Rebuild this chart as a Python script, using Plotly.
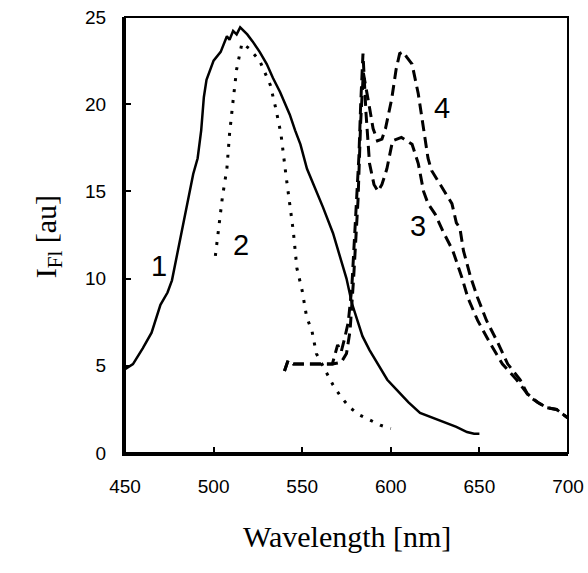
import plotly.graph_objects as go

# Curve 1 (solid)
wl1 = [450, 454.5, 460, 465, 470, 474, 476.5, 482, 485, 488.5, 491, 493, 494.5, 496, 500, 504, 507.5,
       509, 511, 513, 515, 517, 519, 522, 526, 530, 533.5, 537.5, 541, 543, 546, 549, 552.7, 557,
       561.7, 567.4, 572, 575, 578, 581, 584, 588, 591, 594, 598, 603.5, 610, 616.5, 624, 631.6,
       637, 643, 647, 650]
i1 = [4.8, 5.1, 6.0, 6.9, 8.5, 9.2, 9.9, 12.6, 14.2, 16.0, 16.9, 18.5, 20.4, 21.4, 22.5, 23.0, 23.9,
      23.7, 24.2, 24.0, 24.4, 24.2, 24.0, 23.6, 23.0, 22.3, 21.5, 20.7, 19.8, 19.4, 18.5, 17.7, 16.3,
      15.3, 14.1, 12.6, 11.0, 10.0, 8.6, 7.6, 6.7, 5.9, 5.4, 4.9, 4.2, 3.6, 2.9, 2.3, 2.0, 1.7,
      1.5, 1.2, 1.1, 1.1]

# Curve 2 (dotted)
wl2 = [501, 503, 505, 507.5, 509, 511, 513, 516, 520, 526, 532, 535, 538, 541, 543, 545, 547, 550,
       552.5, 555.5, 558, 564.5, 567.4, 572, 577, 582, 588, 594, 600]
i2 = [11.3, 12.9, 14.7, 16.3, 18.3, 20.2, 22.0, 23.5, 23.2, 22.5, 21.1, 19.8, 18.3, 15.8, 14.1, 12.7,
      10.6, 9.3, 7.8, 7.0, 5.7, 4.5, 3.9, 3.2, 2.6, 2.2, 1.9, 1.6, 1.4]

# Curve 3 (dashed)
wl3 = [540, 542, 545, 550, 556, 561, 567, 570, 572, 574, 576, 578, 580, 582, 583, 584.3, 586, 588,
       590.5, 592.8, 595, 597.8, 601, 606, 612, 615.5, 618.5, 621, 625, 629.5, 635, 640, 643.5,
       649, 656, 663, 671, 678.5, 683, 688, 693.5, 696, 700]
i3 = [4.7, 5.3, 5.1, 5.1, 5.1, 5.1, 5.1, 6.2, 5.8, 6.6, 7.5, 9.5, 13.0, 17.0, 20.0, 22.9, 19.5, 16.6,
      15.4, 15.0, 15.4, 16.3, 17.9, 18.1, 17.7, 16.6, 15.0, 14.3, 13.7, 12.7, 11.6, 10.1, 8.9,
      7.6, 6.3, 5.1, 4.2, 3.2, 2.9, 2.6, 2.5, 2.3, 2.0]

# Curve 4 (dashed)
wl4 = [540, 542, 545, 550, 556, 561, 567, 572, 575, 577, 579, 581.5, 583, 584.5, 586, 588, 590,
       592.5, 595, 597, 600.5, 603, 605, 607, 609, 612, 615.5, 618.5, 621, 623, 628, 631, 634.5,
       637, 639, 641, 645, 649, 654, 660.5, 666, 673, 677, 683, 688, 693.5, 696, 700]
i4 = [4.7, 5.3, 5.1, 5.1, 5.1, 5.1, 5.1, 5.2, 5.7, 7.0, 10.0, 14.5, 19.0, 21.8, 21.0, 19.8, 18.6,
      17.9, 18.0, 18.6, 20.3, 22.0, 22.9, 23.0, 22.7, 22.3, 20.6, 18.5, 16.9, 16.2, 15.4, 14.9, 14.3,
      13.2, 12.9, 11.6, 10.1, 8.9, 7.6, 6.3, 5.1, 4.2, 3.4, 2.9, 2.6, 2.5, 2.3, 2.0]

x_ticks = [450, 500, 550, 600, 650, 700]
y_ticks = [0, 5, 10, 15, 20, 25]
curve_labels = ["1", "2", "3", "4"]

fig = go.Figure()
fig.add_trace(go.Scatter(x=wl1, y=i1, mode="lines", line=dict(color="black", width=2.5), showlegend=False))
fig.add_trace(go.Scatter(x=wl2, y=i2, mode="lines", line=dict(color="black", width=3, dash="3px,8px"), showlegend=False))
fig.add_trace(go.Scatter(x=wl3, y=i3, mode="lines", line=dict(color="black", width=3, dash="11px,6px"), showlegend=False))
fig.add_trace(go.Scatter(x=wl4, y=i4, mode="lines", line=dict(color="black", width=3, dash="11px,6px"), showlegend=False))

label_pos = [(469.2, 10.7), (515.5, 11.9), (615.3, 13.0), (628.9, 19.8)]
for lab, (lx, ly) in zip(curve_labels, label_pos):
    fig.add_annotation(x=lx, y=ly, text=lab, showarrow=False,
                       font=dict(family="Arial, Liberation Sans", size=29, color="black"))

fig.add_annotation(xref="paper", yref="paper", x=-0.221, y=0.495, text="I<sub>Fl</sub> [au]",
                   textangle=-90, showarrow=False,
                   font=dict(family="Times New Roman, Liberation Serif", size=30, color="black"))
fig.add_annotation(xref="paper", yref="paper", x=0.5, y=-0.235, text="Wavelength [nm]",
                   showarrow=False,
                   font=dict(family="Times New Roman, Liberation Serif", size=30, color="black"))

fig.add_shape(type="rect", xref="paper", yref="paper", x0=0, y0=0, x1=1, y1=1,
              line=dict(color="black", width=2))

fig.update_xaxes(range=[450, 700], tickvals=x_ticks, ticktext=[str(v) for v in x_ticks],
                 showgrid=False, zeroline=False, showline=True, linecolor="black", linewidth=3,
                 ticks="inside", ticklen=6, tickwidth=2, tickcolor="black",
                 ticklabelstandoff=14,
                 tickfont=dict(family="Arial, Liberation Sans", size=19, color="black"))
fig.update_yaxes(range=[0, 25], tickvals=y_ticks, ticktext=[str(v) for v in y_ticks],
                 showgrid=False, zeroline=False, showline=True, linecolor="black", linewidth=3,
                 ticks="inside", ticklen=6, tickwidth=2, tickcolor="black",
                 ticklabelstandoff=12,
                 tickfont=dict(family="Arial, Liberation Sans", size=19, color="black"))

fig.update_layout(width=588, height=573, margin=dict(l=125, r=20, t=17, b=120, autoexpand=False),
                  plot_bgcolor="white", paper_bgcolor="white")

fig.write_html("out.html")
